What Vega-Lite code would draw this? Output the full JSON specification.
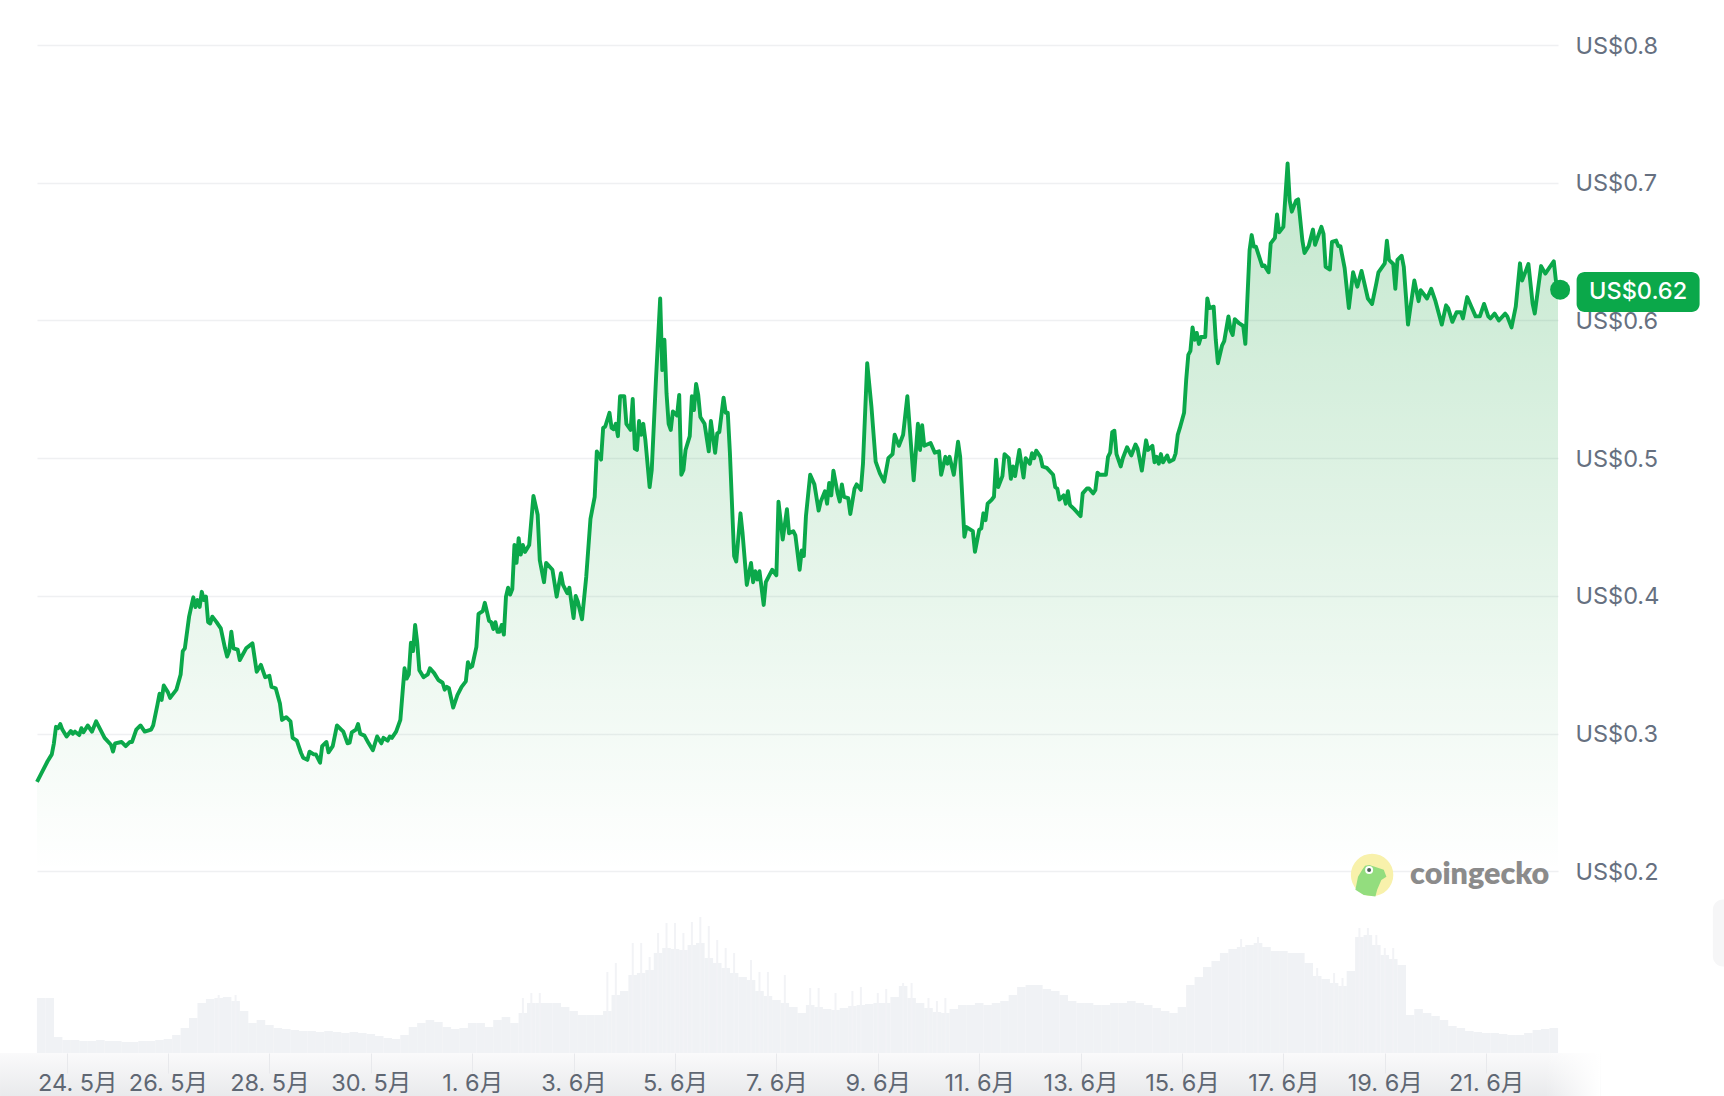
{
"$schema":"https://vega.github.io/schema/vega-lite/v6.json",
"autosize":{"type":"none"},
"background":"#ffffff",
"padding":{"left":37,"top":45,"right":166,"bottom":43},
"width":1521,
"height":1008,
"config":{"view":{"stroke":null},"font":"Inter"},
"datasets":{
"price":[
{"t":"2025-05-23T10:00Z","p":0.265},{"t":"2025-05-23T12:00Z","p":0.271},{"t":"2025-05-23T15:00Z","p":0.28},{"t":"2025-05-23T17:00Z","p":0.285},{"t":"2025-05-23T18:00Z","p":0.293},{"t":"2025-05-23T19:00Z","p":0.305},{"t":"2025-05-23T20:00Z","p":0.304},{"t":"2025-05-23T21:00Z","p":0.307},{"t":"2025-05-23T22:00Z","p":0.303},
{"t":"2025-05-24T00:00Z","p":0.298},{"t":"2025-05-24T02:00Z","p":0.302},{"t":"2025-05-24T03:00Z","p":0.3},{"t":"2025-05-24T04:00Z","p":0.3015},{"t":"2025-05-24T06:00Z","p":0.299},{"t":"2025-05-24T07:00Z","p":0.304},{"t":"2025-05-24T08:00Z","p":0.301},{"t":"2025-05-24T10:00Z","p":0.306},{"t":"2025-05-24T12:00Z","p":0.3015},{"t":"2025-05-24T14:00Z","p":0.309},{"t":"2025-05-24T16:00Z","p":0.303},{"t":"2025-05-24T18:00Z","p":0.297},{"t":"2025-05-24T21:00Z","p":0.292},{"t":"2025-05-24T22:00Z","p":0.287},{"t":"2025-05-24T23:00Z","p":0.293},
{"t":"2025-05-25T02:00Z","p":0.294},{"t":"2025-05-25T04:00Z","p":0.291},{"t":"2025-05-25T06:00Z","p":0.294},{"t":"2025-05-25T07:00Z","p":0.294},{"t":"2025-05-25T09:00Z","p":0.303},{"t":"2025-05-25T11:00Z","p":0.306},{"t":"2025-05-25T13:00Z","p":0.3015},{"t":"2025-05-25T16:00Z","p":0.303},{"t":"2025-05-25T17:00Z","p":0.306},{"t":"2025-05-25T19:00Z","p":0.321},{"t":"2025-05-25T20:00Z","p":0.329},{"t":"2025-05-25T21:00Z","p":0.3245},{"t":"2025-05-25T22:00Z","p":0.335},
{"t":"2025-05-26T00:00Z","p":0.33},{"t":"2025-05-26T01:00Z","p":0.326},{"t":"2025-05-26T04:00Z","p":0.332},{"t":"2025-05-26T06:00Z","p":0.343},{"t":"2025-05-26T07:00Z","p":0.36},{"t":"2025-05-26T08:00Z","p":0.362},{"t":"2025-05-26T10:00Z","p":0.385},{"t":"2025-05-26T12:00Z","p":0.399},{"t":"2025-05-26T13:00Z","p":0.392},{"t":"2025-05-26T14:00Z","p":0.397},{"t":"2025-05-26T15:00Z","p":0.392},{"t":"2025-05-26T16:00Z","p":0.403},{"t":"2025-05-26T17:00Z","p":0.397},{"t":"2025-05-26T18:00Z","p":0.3995},{"t":"2025-05-26T19:00Z","p":0.381},{"t":"2025-05-26T20:00Z","p":0.38},{"t":"2025-05-26T21:00Z","p":0.385},{"t":"2025-05-26T23:00Z","p":0.381},
{"t":"2025-05-27T01:00Z","p":0.3765},{"t":"2025-05-27T03:00Z","p":0.362},{"t":"2025-05-27T04:00Z","p":0.356},{"t":"2025-05-27T05:00Z","p":0.36},{"t":"2025-05-27T06:00Z","p":0.374},{"t":"2025-05-27T07:00Z","p":0.362},{"t":"2025-05-27T09:00Z","p":0.361},{"t":"2025-05-27T10:00Z","p":0.3535},{"t":"2025-05-27T13:00Z","p":0.362},{"t":"2025-05-27T16:00Z","p":0.3656},{"t":"2025-05-27T18:00Z","p":0.345},{"t":"2025-05-27T20:00Z","p":0.35},{"t":"2025-05-27T22:00Z","p":0.341},
{"t":"2025-05-28T00:00Z","p":0.342},{"t":"2025-05-28T01:00Z","p":0.334},{"t":"2025-05-28T03:00Z","p":0.333},{"t":"2025-05-28T05:00Z","p":0.322},{"t":"2025-05-28T06:00Z","p":0.31},{"t":"2025-05-28T08:00Z","p":0.312},{"t":"2025-05-28T10:00Z","p":0.309},{"t":"2025-05-28T11:00Z","p":0.297},{"t":"2025-05-28T13:00Z","p":0.295},{"t":"2025-05-28T15:00Z","p":0.286},{"t":"2025-05-28T16:00Z","p":0.2826},{"t":"2025-05-28T18:00Z","p":0.281},{"t":"2025-05-28T19:00Z","p":0.287},{"t":"2025-05-28T21:00Z","p":0.285},{"t":"2025-05-28T22:00Z","p":0.285},
{"t":"2025-05-29T00:00Z","p":0.279},{"t":"2025-05-29T01:00Z","p":0.291},{"t":"2025-05-29T03:00Z","p":0.294},{"t":"2025-05-29T04:00Z","p":0.2865},{"t":"2025-05-29T06:00Z","p":0.291},{"t":"2025-05-29T08:00Z","p":0.306},{"t":"2025-05-29T10:00Z","p":0.303},{"t":"2025-05-29T11:00Z","p":0.3015},{"t":"2025-05-29T13:00Z","p":0.293},{"t":"2025-05-29T14:00Z","p":0.2935},{"t":"2025-05-29T15:00Z","p":0.301},{"t":"2025-05-29T17:00Z","p":0.303},{"t":"2025-05-29T18:00Z","p":0.307},{"t":"2025-05-29T19:00Z","p":0.3},{"t":"2025-05-29T21:00Z","p":0.2986},{"t":"2025-05-29T23:00Z","p":0.293},
{"t":"2025-05-30T01:00Z","p":0.288},{"t":"2025-05-30T03:00Z","p":0.298},{"t":"2025-05-30T05:00Z","p":0.293},{"t":"2025-05-30T06:00Z","p":0.297},{"t":"2025-05-30T08:00Z","p":0.295},{"t":"2025-05-30T09:00Z","p":0.298},{"t":"2025-05-30T10:00Z","p":0.297},{"t":"2025-05-30T12:00Z","p":0.3015},{"t":"2025-05-30T14:00Z","p":0.31},{"t":"2025-05-30T15:00Z","p":0.329},{"t":"2025-05-30T16:00Z","p":0.3475},{"t":"2025-05-30T17:00Z","p":0.34},{"t":"2025-05-30T18:00Z","p":0.343},{"t":"2025-05-30T19:00Z","p":0.366},{"t":"2025-05-30T20:00Z","p":0.36},{"t":"2025-05-30T21:00Z","p":0.379},{"t":"2025-05-30T22:00Z","p":0.366},{"t":"2025-05-30T23:00Z","p":0.346},
{"t":"2025-05-31T01:00Z","p":0.341},{"t":"2025-05-31T03:00Z","p":0.343},{"t":"2025-05-31T04:00Z","p":0.3475},{"t":"2025-05-31T06:00Z","p":0.344},{"t":"2025-05-31T08:00Z","p":0.339},{"t":"2025-05-31T10:00Z","p":0.337},{"t":"2025-05-31T11:00Z","p":0.332},{"t":"2025-05-31T12:00Z","p":0.334},{"t":"2025-05-31T13:00Z","p":0.333},{"t":"2025-05-31T15:00Z","p":0.319},{"t":"2025-05-31T17:00Z","p":0.328},{"t":"2025-05-31T19:00Z","p":0.334},{"t":"2025-05-31T21:00Z","p":0.338},{"t":"2025-05-31T22:00Z","p":0.352},{"t":"2025-05-31T23:00Z","p":0.348},
{"t":"2025-06-01T00:00Z","p":0.349},{"t":"2025-06-01T02:00Z","p":0.363},{"t":"2025-06-01T03:00Z","p":0.387},{"t":"2025-06-01T05:00Z","p":0.389},{"t":"2025-06-01T06:00Z","p":0.395},{"t":"2025-06-01T08:00Z","p":0.382},{"t":"2025-06-01T09:00Z","p":0.381},{"t":"2025-06-01T10:00Z","p":0.376},{"t":"2025-06-01T11:00Z","p":0.381},{"t":"2025-06-01T12:00Z","p":0.374},{"t":"2025-06-01T13:00Z","p":0.374},{"t":"2025-06-01T14:00Z","p":0.379},{"t":"2025-06-01T15:00Z","p":0.372},{"t":"2025-06-01T16:00Z","p":0.3995},{"t":"2025-06-01T17:00Z","p":0.406},{"t":"2025-06-01T18:00Z","p":0.401},{"t":"2025-06-01T19:00Z","p":0.405},{"t":"2025-06-01T20:00Z","p":0.437},{"t":"2025-06-01T21:00Z","p":0.424},{"t":"2025-06-01T22:00Z","p":0.442},{"t":"2025-06-01T23:00Z","p":0.43},
{"t":"2025-06-02T00:00Z","p":0.437},{"t":"2025-06-02T01:00Z","p":0.432},{"t":"2025-06-02T03:00Z","p":0.437},{"t":"2025-06-02T05:00Z","p":0.4726},{"t":"2025-06-02T07:00Z","p":0.459},{"t":"2025-06-02T08:00Z","p":0.426},{"t":"2025-06-02T10:00Z","p":0.41},{"t":"2025-06-02T11:00Z","p":0.424},{"t":"2025-06-02T14:00Z","p":0.419},{"t":"2025-06-02T16:00Z","p":0.3995},{"t":"2025-06-02T18:00Z","p":0.4165},{"t":"2025-06-02T19:00Z","p":0.408},{"t":"2025-06-02T21:00Z","p":0.402},{"t":"2025-06-02T22:00Z","p":0.406},
{"t":"2025-06-03T00:00Z","p":0.384},{"t":"2025-06-03T01:00Z","p":0.4},{"t":"2025-06-03T02:00Z","p":0.396},{"t":"2025-06-03T04:00Z","p":0.383},{"t":"2025-06-03T06:00Z","p":0.414},{"t":"2025-06-03T08:00Z","p":0.456},{"t":"2025-06-03T10:00Z","p":0.472},{"t":"2025-06-03T11:00Z","p":0.505},{"t":"2025-06-03T13:00Z","p":0.499},{"t":"2025-06-03T14:00Z","p":0.522},{"t":"2025-06-03T15:00Z","p":0.523},{"t":"2025-06-03T17:00Z","p":0.533},{"t":"2025-06-03T18:00Z","p":0.522},{"t":"2025-06-03T19:00Z","p":0.521},{"t":"2025-06-03T20:00Z","p":0.525},{"t":"2025-06-03T21:00Z","p":0.516},{"t":"2025-06-03T22:00Z","p":0.545},
{"t":"2025-06-04T00:00Z","p":0.545},{"t":"2025-06-04T01:00Z","p":0.525},{"t":"2025-06-04T03:00Z","p":0.5205},{"t":"2025-06-04T04:00Z","p":0.543},{"t":"2025-06-04T05:00Z","p":0.507},{"t":"2025-06-04T06:00Z","p":0.506},{"t":"2025-06-04T07:00Z","p":0.527},{"t":"2025-06-04T08:00Z","p":0.517},{"t":"2025-06-04T09:00Z","p":0.525},{"t":"2025-06-04T10:00Z","p":0.513},{"t":"2025-06-04T12:00Z","p":0.479},{"t":"2025-06-04T13:00Z","p":0.4915},{"t":"2025-06-04T15:00Z","p":0.557},{"t":"2025-06-04T17:00Z","p":0.616},{"t":"2025-06-04T18:00Z","p":0.564},{"t":"2025-06-04T19:00Z","p":0.586},{"t":"2025-06-04T20:00Z","p":0.547},{"t":"2025-06-04T21:00Z","p":0.525},{"t":"2025-06-04T22:00Z","p":0.5205},{"t":"2025-06-04T23:00Z","p":0.534},
{"t":"2025-06-05T01:00Z","p":0.531},{"t":"2025-06-05T02:00Z","p":0.546},{"t":"2025-06-05T03:00Z","p":0.488},{"t":"2025-06-05T04:00Z","p":0.4915},{"t":"2025-06-05T05:00Z","p":0.506},{"t":"2025-06-05T07:00Z","p":0.516},{"t":"2025-06-05T08:00Z","p":0.545},{"t":"2025-06-05T09:00Z","p":0.535},{"t":"2025-06-05T10:00Z","p":0.554},{"t":"2025-06-05T11:00Z","p":0.546},{"t":"2025-06-05T12:00Z","p":0.53},{"t":"2025-06-05T14:00Z","p":0.525},{"t":"2025-06-05T16:00Z","p":0.505},{"t":"2025-06-05T17:00Z","p":0.527},{"t":"2025-06-05T19:00Z","p":0.504},{"t":"2025-06-05T20:00Z","p":0.518},{"t":"2025-06-05T21:00Z","p":0.519},{"t":"2025-06-05T23:00Z","p":0.544},
{"t":"2025-06-06T00:00Z","p":0.533},{"t":"2025-06-06T01:00Z","p":0.533},{"t":"2025-06-06T02:00Z","p":0.504},{"t":"2025-06-06T04:00Z","p":0.429},{"t":"2025-06-06T05:00Z","p":0.425},{"t":"2025-06-06T07:00Z","p":0.46},{"t":"2025-06-06T08:00Z","p":0.4455},{"t":"2025-06-06T10:00Z","p":0.408},{"t":"2025-06-06T12:00Z","p":0.424},{"t":"2025-06-06T13:00Z","p":0.41},{"t":"2025-06-06T14:00Z","p":0.418},{"t":"2025-06-06T15:00Z","p":0.412},{"t":"2025-06-06T16:00Z","p":0.418},{"t":"2025-06-06T18:00Z","p":0.3935},{"t":"2025-06-06T19:00Z","p":0.41},{"t":"2025-06-06T22:00Z","p":0.419},
{"t":"2025-06-07T00:00Z","p":0.415},{"t":"2025-06-07T01:00Z","p":0.4685},{"t":"2025-06-07T03:00Z","p":0.441},{"t":"2025-06-07T05:00Z","p":0.463},{"t":"2025-06-07T06:00Z","p":0.4455},{"t":"2025-06-07T08:00Z","p":0.447},{"t":"2025-06-07T09:00Z","p":0.444},{"t":"2025-06-07T11:00Z","p":0.419},{"t":"2025-06-07T12:00Z","p":0.433},{"t":"2025-06-07T13:00Z","p":0.429},{"t":"2025-06-07T14:00Z","p":0.458},{"t":"2025-06-07T16:00Z","p":0.488},{"t":"2025-06-07T18:00Z","p":0.481},{"t":"2025-06-07T20:00Z","p":0.462},{"t":"2025-06-07T21:00Z","p":0.4685},{"t":"2025-06-07T23:00Z","p":0.476},
{"t":"2025-06-08T00:00Z","p":0.467},{"t":"2025-06-08T01:00Z","p":0.482},{"t":"2025-06-08T02:00Z","p":0.473},{"t":"2025-06-08T03:00Z","p":0.491},{"t":"2025-06-08T05:00Z","p":0.4745},{"t":"2025-06-08T06:00Z","p":0.4685},{"t":"2025-06-08T07:00Z","p":0.481},{"t":"2025-06-08T08:00Z","p":0.472},{"t":"2025-06-08T10:00Z","p":0.471},{"t":"2025-06-08T11:00Z","p":0.4595},{"t":"2025-06-08T13:00Z","p":0.478},{"t":"2025-06-08T14:00Z","p":0.481},{"t":"2025-06-08T16:00Z","p":0.477},{"t":"2025-06-08T17:00Z","p":0.496},{"t":"2025-06-08T19:00Z","p":0.569},{"t":"2025-06-08T21:00Z","p":0.5375},{"t":"2025-06-08T23:00Z","p":0.4975},
{"t":"2025-06-09T01:00Z","p":0.489},{"t":"2025-06-09T03:00Z","p":0.483},{"t":"2025-06-09T05:00Z","p":0.5},{"t":"2025-06-09T07:00Z","p":0.503},{"t":"2025-06-09T08:00Z","p":0.517},{"t":"2025-06-09T10:00Z","p":0.509},{"t":"2025-06-09T12:00Z","p":0.517},{"t":"2025-06-09T14:00Z","p":0.545},{"t":"2025-06-09T16:00Z","p":0.504},{"t":"2025-06-09T17:00Z","p":0.484},{"t":"2025-06-09T19:00Z","p":0.525},{"t":"2025-06-09T20:00Z","p":0.506},{"t":"2025-06-09T21:00Z","p":0.524},{"t":"2025-06-09T22:00Z","p":0.509},
{"t":"2025-06-10T01:00Z","p":0.511},{"t":"2025-06-10T03:00Z","p":0.504},{"t":"2025-06-10T05:00Z","p":0.505},{"t":"2025-06-10T06:00Z","p":0.488},{"t":"2025-06-10T08:00Z","p":0.501},{"t":"2025-06-10T09:00Z","p":0.496},{"t":"2025-06-10T10:00Z","p":0.501},{"t":"2025-06-10T12:00Z","p":0.488},{"t":"2025-06-10T14:00Z","p":0.512},{"t":"2025-06-10T15:00Z","p":0.501},{"t":"2025-06-10T17:00Z","p":0.443},{"t":"2025-06-10T18:00Z","p":0.45},{"t":"2025-06-10T21:00Z","p":0.447},{"t":"2025-06-10T22:00Z","p":0.432},
{"t":"2025-06-11T00:00Z","p":0.448},{"t":"2025-06-11T01:00Z","p":0.449},{"t":"2025-06-11T02:00Z","p":0.46},{"t":"2025-06-11T03:00Z","p":0.455},{"t":"2025-06-11T04:00Z","p":0.467},{"t":"2025-06-11T06:00Z","p":0.47},{"t":"2025-06-11T07:00Z","p":0.472},{"t":"2025-06-11T08:00Z","p":0.499},{"t":"2025-06-11T09:00Z","p":0.479},{"t":"2025-06-11T11:00Z","p":0.487},{"t":"2025-06-11T12:00Z","p":0.503},{"t":"2025-06-11T14:00Z","p":0.5},{"t":"2025-06-11T15:00Z","p":0.485},{"t":"2025-06-11T16:00Z","p":0.494},{"t":"2025-06-11T17:00Z","p":0.487},{"t":"2025-06-11T19:00Z","p":0.506},{"t":"2025-06-11T21:00Z","p":0.486},{"t":"2025-06-11T22:00Z","p":0.5},
{"t":"2025-06-12T00:00Z","p":0.496},{"t":"2025-06-12T01:00Z","p":0.5036},{"t":"2025-06-12T02:00Z","p":0.5},{"t":"2025-06-12T03:00Z","p":0.5055},{"t":"2025-06-12T05:00Z","p":0.501},{"t":"2025-06-12T06:00Z","p":0.494},{"t":"2025-06-12T08:00Z","p":0.493},{"t":"2025-06-12T11:00Z","p":0.488},{"t":"2025-06-12T12:00Z","p":0.479},{"t":"2025-06-12T13:00Z","p":0.478},{"t":"2025-06-12T14:00Z","p":0.47},{"t":"2025-06-12T16:00Z","p":0.473},{"t":"2025-06-12T17:00Z","p":0.467},{"t":"2025-06-12T18:00Z","p":0.476},{"t":"2025-06-12T19:00Z","p":0.466},{"t":"2025-06-12T21:00Z","p":0.463},
{"t":"2025-06-13T00:00Z","p":0.458},{"t":"2025-06-13T01:00Z","p":0.4745},{"t":"2025-06-13T03:00Z","p":0.478},{"t":"2025-06-13T04:00Z","p":0.478},{"t":"2025-06-13T06:00Z","p":0.4745},{"t":"2025-06-13T07:00Z","p":0.477},{"t":"2025-06-13T08:00Z","p":0.4895},{"t":"2025-06-13T09:00Z","p":0.488},{"t":"2025-06-13T12:00Z","p":0.488},{"t":"2025-06-13T13:00Z","p":0.501},{"t":"2025-06-13T14:00Z","p":0.504},{"t":"2025-06-13T15:00Z","p":0.519},{"t":"2025-06-13T16:00Z","p":0.52},{"t":"2025-06-13T17:00Z","p":0.503},{"t":"2025-06-13T19:00Z","p":0.494},{"t":"2025-06-13T20:00Z","p":0.5},{"t":"2025-06-13T22:00Z","p":0.508},
{"t":"2025-06-14T00:00Z","p":0.502},{"t":"2025-06-14T02:00Z","p":0.51},{"t":"2025-06-14T03:00Z","p":0.507},{"t":"2025-06-14T05:00Z","p":0.491},{"t":"2025-06-14T07:00Z","p":0.513},{"t":"2025-06-14T08:00Z","p":0.506},{"t":"2025-06-14T10:00Z","p":0.509},{"t":"2025-06-14T11:00Z","p":0.497},{"t":"2025-06-14T12:00Z","p":0.501},{"t":"2025-06-14T13:00Z","p":0.496},{"t":"2025-06-14T14:00Z","p":0.503},{"t":"2025-06-14T15:00Z","p":0.497},{"t":"2025-06-14T17:00Z","p":0.502},{"t":"2025-06-14T18:00Z","p":0.4975},{"t":"2025-06-14T20:00Z","p":0.499},{"t":"2025-06-14T21:00Z","p":0.5036},{"t":"2025-06-14T22:00Z","p":0.517},{"t":"2025-06-14T23:00Z","p":0.522},
{"t":"2025-06-15T01:00Z","p":0.533},{"t":"2025-06-15T02:00Z","p":0.557},{"t":"2025-06-15T03:00Z","p":0.575},{"t":"2025-06-15T04:00Z","p":0.578},{"t":"2025-06-15T05:00Z","p":0.595},{"t":"2025-06-15T06:00Z","p":0.586},{"t":"2025-06-15T07:00Z","p":0.591},{"t":"2025-06-15T08:00Z","p":0.583},{"t":"2025-06-15T09:00Z","p":0.588},{"t":"2025-06-15T11:00Z","p":0.588},{"t":"2025-06-15T12:00Z","p":0.616},{"t":"2025-06-15T13:00Z","p":0.609},{"t":"2025-06-15T15:00Z","p":0.61},{"t":"2025-06-15T16:00Z","p":0.586},{"t":"2025-06-15T17:00Z","p":0.569},{"t":"2025-06-15T19:00Z","p":0.582},{"t":"2025-06-15T20:00Z","p":0.585},{"t":"2025-06-15T22:00Z","p":0.603},{"t":"2025-06-15T23:00Z","p":0.593},
{"t":"2025-06-16T00:00Z","p":0.5895},{"t":"2025-06-16T01:00Z","p":0.601},{"t":"2025-06-16T03:00Z","p":0.598},{"t":"2025-06-16T05:00Z","p":0.596},{"t":"2025-06-16T06:00Z","p":0.583},{"t":"2025-06-16T08:00Z","p":0.651},{"t":"2025-06-16T09:00Z","p":0.662},{"t":"2025-06-16T10:00Z","p":0.6536},{"t":"2025-06-16T11:00Z","p":0.6536},{"t":"2025-06-16T14:00Z","p":0.6395},{"t":"2025-06-16T15:00Z","p":0.64},{"t":"2025-06-16T17:00Z","p":0.635},{"t":"2025-06-16T18:00Z","p":0.656},{"t":"2025-06-16T20:00Z","p":0.66},{"t":"2025-06-16T21:00Z","p":0.677},{"t":"2025-06-16T22:00Z","p":0.664},
{"t":"2025-06-17T00:00Z","p":0.668},{"t":"2025-06-17T02:00Z","p":0.714},{"t":"2025-06-17T03:00Z","p":0.687},{"t":"2025-06-17T04:00Z","p":0.679},{"t":"2025-06-17T06:00Z","p":0.687},{"t":"2025-06-17T07:00Z","p":0.688},{"t":"2025-06-17T09:00Z","p":0.658},{"t":"2025-06-17T10:00Z","p":0.649},{"t":"2025-06-17T12:00Z","p":0.654},{"t":"2025-06-17T14:00Z","p":0.666},{"t":"2025-06-17T15:00Z","p":0.655},{"t":"2025-06-17T18:00Z","p":0.668},{"t":"2025-06-17T19:00Z","p":0.663},{"t":"2025-06-17T20:00Z","p":0.639},{"t":"2025-06-17T22:00Z","p":0.637},{"t":"2025-06-17T23:00Z","p":0.657},
{"t":"2025-06-18T01:00Z","p":0.658},{"t":"2025-06-18T02:00Z","p":0.654},{"t":"2025-06-18T03:00Z","p":0.654},{"t":"2025-06-18T05:00Z","p":0.638},{"t":"2025-06-18T07:00Z","p":0.609},{"t":"2025-06-18T09:00Z","p":0.635},{"t":"2025-06-18T11:00Z","p":0.6245},{"t":"2025-06-18T13:00Z","p":0.636},{"t":"2025-06-18T16:00Z","p":0.616},{"t":"2025-06-18T18:00Z","p":0.612},{"t":"2025-06-18T20:00Z","p":0.627},{"t":"2025-06-18T21:00Z","p":0.635},
{"t":"2025-06-19T00:00Z","p":0.6415},{"t":"2025-06-19T01:00Z","p":0.658},{"t":"2025-06-19T02:00Z","p":0.644},{"t":"2025-06-19T04:00Z","p":0.641},{"t":"2025-06-19T05:00Z","p":0.623},{"t":"2025-06-19T06:00Z","p":0.644},{"t":"2025-06-19T08:00Z","p":0.647},{"t":"2025-06-19T09:00Z","p":0.639},{"t":"2025-06-19T11:00Z","p":0.597},{"t":"2025-06-19T12:00Z","p":0.608},{"t":"2025-06-19T14:00Z","p":0.629},{"t":"2025-06-19T16:00Z","p":0.614},{"t":"2025-06-19T17:00Z","p":0.622},{"t":"2025-06-19T20:00Z","p":0.616},{"t":"2025-06-19T22:00Z","p":0.623},
{"t":"2025-06-20T00:00Z","p":0.614},{"t":"2025-06-20T03:00Z","p":0.597},{"t":"2025-06-20T05:00Z","p":0.611},{"t":"2025-06-20T06:00Z","p":0.609},{"t":"2025-06-20T08:00Z","p":0.599},{"t":"2025-06-20T10:00Z","p":0.606},{"t":"2025-06-20T12:00Z","p":0.606},{"t":"2025-06-20T13:00Z","p":0.6015},{"t":"2025-06-20T15:00Z","p":0.617},{"t":"2025-06-20T17:00Z","p":0.61},{"t":"2025-06-20T19:00Z","p":0.603},{"t":"2025-06-20T21:00Z","p":0.603},{"t":"2025-06-20T23:00Z","p":0.612},
{"t":"2025-06-21T01:00Z","p":0.603},{"t":"2025-06-21T02:00Z","p":0.6015},{"t":"2025-06-21T04:00Z","p":0.605},{"t":"2025-06-21T06:00Z","p":0.6},{"t":"2025-06-21T09:00Z","p":0.605},{"t":"2025-06-21T10:00Z","p":0.603},{"t":"2025-06-21T12:00Z","p":0.595},{"t":"2025-06-21T14:00Z","p":0.61},{"t":"2025-06-21T16:00Z","p":0.6415},{"t":"2025-06-21T17:00Z","p":0.629},{"t":"2025-06-21T20:00Z","p":0.641},{"t":"2025-06-21T22:00Z","p":0.612},{"t":"2025-06-21T23:00Z","p":0.605},
{"t":"2025-06-22T02:00Z","p":0.6395},{"t":"2025-06-22T04:00Z","p":0.634},{"t":"2025-06-22T08:00Z","p":0.643},{"t":"2025-06-22T09:00Z","p":0.629},{"t":"2025-06-22T10:00Z","p":0.6224}
],
"volume":[
{"t":"2025-05-23T12:00Z","v":55},{"t":"2025-05-23T16:00Z","v":55},{"t":"2025-05-23T20:00Z","v":16},
{"t":"2025-05-24T00:00Z","v":13},{"t":"2025-05-24T04:00Z","v":13},{"t":"2025-05-24T08:00Z","v":12},{"t":"2025-05-24T12:00Z","v":12},{"t":"2025-05-24T16:00Z","v":13},{"t":"2025-05-24T20:00Z","v":12},
{"t":"2025-05-25T00:00Z","v":12},{"t":"2025-05-25T04:00Z","v":11},{"t":"2025-05-25T08:00Z","v":11},{"t":"2025-05-25T12:00Z","v":12},{"t":"2025-05-25T16:00Z","v":12},{"t":"2025-05-25T20:00Z","v":13},
{"t":"2025-05-26T00:00Z","v":14},{"t":"2025-05-26T04:00Z","v":18},{"t":"2025-05-26T08:00Z","v":25},{"t":"2025-05-26T12:00Z","v":35},{"t":"2025-05-26T16:00Z","v":50},{"t":"2025-05-26T20:00Z","v":54},
{"t":"2025-05-27T00:00Z","v":55,"s":58},{"t":"2025-05-27T04:00Z","v":56},{"t":"2025-05-27T08:00Z","v":52,"s":58},{"t":"2025-05-27T12:00Z","v":42},{"t":"2025-05-27T16:00Z","v":30},{"t":"2025-05-27T20:00Z","v":33},
{"t":"2025-05-28T00:00Z","v":28},{"t":"2025-05-28T04:00Z","v":25},{"t":"2025-05-28T08:00Z","v":24},{"t":"2025-05-28T12:00Z","v":23},{"t":"2025-05-28T16:00Z","v":22},{"t":"2025-05-28T20:00Z","v":22},
{"t":"2025-05-29T00:00Z","v":21},{"t":"2025-05-29T04:00Z","v":22},{"t":"2025-05-29T08:00Z","v":21},{"t":"2025-05-29T12:00Z","v":20},{"t":"2025-05-29T16:00Z","v":21},{"t":"2025-05-29T20:00Z","v":20},
{"t":"2025-05-30T00:00Z","v":19},{"t":"2025-05-30T04:00Z","v":17},{"t":"2025-05-30T08:00Z","v":15},{"t":"2025-05-30T12:00Z","v":14},{"t":"2025-05-30T16:00Z","v":18},{"t":"2025-05-30T20:00Z","v":26},
{"t":"2025-05-31T00:00Z","v":30},{"t":"2025-05-31T04:00Z","v":33},{"t":"2025-05-31T08:00Z","v":31},{"t":"2025-05-31T12:00Z","v":26},{"t":"2025-05-31T16:00Z","v":24},{"t":"2025-05-31T20:00Z","v":25},
{"t":"2025-06-01T00:00Z","v":30},{"t":"2025-06-01T04:00Z","v":30},{"t":"2025-06-01T08:00Z","v":26},{"t":"2025-06-01T12:00Z","v":33},{"t":"2025-06-01T16:00Z","v":36},{"t":"2025-06-01T20:00Z","v":30},
{"t":"2025-06-02T00:00Z","v":40,"s":55},{"t":"2025-06-02T04:00Z","v":50,"s":60},{"t":"2025-06-02T08:00Z","v":50,"s":60},{"t":"2025-06-02T12:00Z","v":50},{"t":"2025-06-02T16:00Z","v":50},{"t":"2025-06-02T20:00Z","v":46},
{"t":"2025-06-03T00:00Z","v":42},{"t":"2025-06-03T04:00Z","v":38},{"t":"2025-06-03T08:00Z","v":38},{"t":"2025-06-03T12:00Z","v":38},{"t":"2025-06-03T16:00Z","v":42,"s":81},{"t":"2025-06-03T20:00Z","v":58,"s":90},
{"t":"2025-06-04T00:00Z","v":62},{"t":"2025-06-04T04:00Z","v":78,"s":110},{"t":"2025-06-04T08:00Z","v":80,"s":110},{"t":"2025-06-04T12:00Z","v":83,"s":96},{"t":"2025-06-04T16:00Z","v":100,"s":120},{"t":"2025-06-04T20:00Z","v":105,"s":130},
{"t":"2025-06-05T00:00Z","v":104,"s":130},{"t":"2025-06-05T04:00Z","v":103,"s":120},{"t":"2025-06-05T08:00Z","v":108,"s":131},{"t":"2025-06-05T12:00Z","v":110,"s":136},{"t":"2025-06-05T16:00Z","v":95,"s":127},{"t":"2025-06-05T20:00Z","v":90,"s":113},
{"t":"2025-06-06T00:00Z","v":85,"s":105},{"t":"2025-06-06T04:00Z","v":80,"s":100},{"t":"2025-06-06T08:00Z","v":76},{"t":"2025-06-06T12:00Z","v":73,"s":93},{"t":"2025-06-06T16:00Z","v":62,"s":81},{"t":"2025-06-06T20:00Z","v":57,"s":81},
{"t":"2025-06-07T00:00Z","v":53},{"t":"2025-06-07T04:00Z","v":50,"s":78},{"t":"2025-06-07T08:00Z","v":46},{"t":"2025-06-07T12:00Z","v":40},{"t":"2025-06-07T16:00Z","v":48,"s":65},{"t":"2025-06-07T20:00Z","v":46,"s":65},
{"t":"2025-06-08T00:00Z","v":44},{"t":"2025-06-08T04:00Z","v":43,"s":60},{"t":"2025-06-08T08:00Z","v":45},{"t":"2025-06-08T12:00Z","v":47,"s":62},{"t":"2025-06-08T16:00Z","v":48,"s":66},{"t":"2025-06-08T20:00Z","v":49},
{"t":"2025-06-09T00:00Z","v":50,"s":60},{"t":"2025-06-09T04:00Z","v":50,"s":64},{"t":"2025-06-09T08:00Z","v":56},{"t":"2025-06-09T12:00Z","v":67,"s":70},{"t":"2025-06-09T16:00Z","v":55,"s":70},{"t":"2025-06-09T20:00Z","v":50},
{"t":"2025-06-10T00:00Z","v":45,"s":55},{"t":"2025-06-10T04:00Z","v":41,"s":52},{"t":"2025-06-10T08:00Z","v":40,"s":55},{"t":"2025-06-10T12:00Z","v":44},{"t":"2025-06-10T16:00Z","v":48},{"t":"2025-06-10T20:00Z","v":48},
{"t":"2025-06-11T00:00Z","v":50},{"t":"2025-06-11T04:00Z","v":48},{"t":"2025-06-11T08:00Z","v":50},{"t":"2025-06-11T12:00Z","v":52},{"t":"2025-06-11T16:00Z","v":58},{"t":"2025-06-11T20:00Z","v":66},
{"t":"2025-06-12T00:00Z","v":68},{"t":"2025-06-12T04:00Z","v":68},{"t":"2025-06-12T08:00Z","v":64},{"t":"2025-06-12T12:00Z","v":62},{"t":"2025-06-12T16:00Z","v":58},{"t":"2025-06-12T20:00Z","v":52},
{"t":"2025-06-13T00:00Z","v":50},{"t":"2025-06-13T04:00Z","v":50},{"t":"2025-06-13T08:00Z","v":48},{"t":"2025-06-13T12:00Z","v":48},{"t":"2025-06-13T16:00Z","v":50},{"t":"2025-06-13T20:00Z","v":50},
{"t":"2025-06-14T00:00Z","v":52},{"t":"2025-06-14T04:00Z","v":50},{"t":"2025-06-14T08:00Z","v":48},{"t":"2025-06-14T12:00Z","v":45},{"t":"2025-06-14T16:00Z","v":42},{"t":"2025-06-14T20:00Z","v":40},
{"t":"2025-06-15T00:00Z","v":46},{"t":"2025-06-15T04:00Z","v":68},{"t":"2025-06-15T08:00Z","v":76},{"t":"2025-06-15T12:00Z","v":86},{"t":"2025-06-15T16:00Z","v":92},{"t":"2025-06-15T20:00Z","v":100},
{"t":"2025-06-16T00:00Z","v":104},{"t":"2025-06-16T04:00Z","v":106,"s":114},{"t":"2025-06-16T08:00Z","v":108},{"t":"2025-06-16T12:00Z","v":110,"s":116},{"t":"2025-06-16T16:00Z","v":106},{"t":"2025-06-16T20:00Z","v":102},
{"t":"2025-06-17T00:00Z","v":102},{"t":"2025-06-17T04:00Z","v":100},{"t":"2025-06-17T08:00Z","v":100},{"t":"2025-06-17T12:00Z","v":90},{"t":"2025-06-17T16:00Z","v":77,"s":85},{"t":"2025-06-17T20:00Z","v":74},
{"t":"2025-06-18T00:00Z","v":70,"s":80},{"t":"2025-06-18T04:00Z","v":67,"s":75},{"t":"2025-06-18T08:00Z","v":82},{"t":"2025-06-18T12:00Z","v":116,"s":125},{"t":"2025-06-18T16:00Z","v":118,"s":125},{"t":"2025-06-18T20:00Z","v":108,"s":118},
{"t":"2025-06-19T00:00Z","v":98,"s":105},{"t":"2025-06-19T04:00Z","v":94,"s":105},{"t":"2025-06-19T08:00Z","v":88},{"t":"2025-06-19T12:00Z","v":38},{"t":"2025-06-19T16:00Z","v":44},{"t":"2025-06-19T20:00Z","v":40},
{"t":"2025-06-20T00:00Z","v":37},{"t":"2025-06-20T04:00Z","v":33},{"t":"2025-06-20T08:00Z","v":27},{"t":"2025-06-20T12:00Z","v":25},{"t":"2025-06-20T16:00Z","v":22},{"t":"2025-06-20T20:00Z","v":21},
{"t":"2025-06-21T00:00Z","v":20},{"t":"2025-06-21T04:00Z","v":20},{"t":"2025-06-21T08:00Z","v":19},{"t":"2025-06-21T12:00Z","v":18},{"t":"2025-06-21T16:00Z","v":18},{"t":"2025-06-21T20:00Z","v":20},
{"t":"2025-06-22T00:00Z","v":23},{"t":"2025-06-22T04:00Z","v":24},{"t":"2025-06-22T08:00Z","v":25}
],
"gaps":[
{"t":"2025-05-23T16:00Z"},{"t":"2025-05-24T10:00Z"},{"t":"2025-05-25T04:00Z"},{"t":"2025-05-25T22:00Z"},{"t":"2025-05-26T16:00Z"},{"t":"2025-05-27T10:00Z"},{"t":"2025-05-28T04:00Z"},{"t":"2025-05-28T22:00Z"},{"t":"2025-05-29T16:00Z"},{"t":"2025-05-30T10:00Z"},{"t":"2025-05-31T04:00Z"},{"t":"2025-05-31T22:00Z"},{"t":"2025-06-01T16:00Z"},{"t":"2025-06-02T10:00Z"},{"t":"2025-06-03T04:00Z"},{"t":"2025-06-03T22:00Z"},{"t":"2025-06-04T16:00Z"},{"t":"2025-06-05T10:00Z"},{"t":"2025-06-06T04:00Z"},{"t":"2025-06-06T22:00Z"},{"t":"2025-06-07T16:00Z"},{"t":"2025-06-08T10:00Z"},{"t":"2025-06-09T04:00Z"},{"t":"2025-06-09T22:00Z"},{"t":"2025-06-10T16:00Z"},{"t":"2025-06-11T10:00Z"},{"t":"2025-06-12T04:00Z"},{"t":"2025-06-12T22:00Z"},{"t":"2025-06-13T16:00Z"},{"t":"2025-06-14T10:00Z"},{"t":"2025-06-15T04:00Z"},{"t":"2025-06-15T22:00Z"},{"t":"2025-06-16T16:00Z"},{"t":"2025-06-17T10:00Z"},{"t":"2025-06-18T04:00Z"},{"t":"2025-06-18T22:00Z"},{"t":"2025-06-19T16:00Z"},{"t":"2025-06-20T10:00Z"},{"t":"2025-06-21T04:00Z"},{"t":"2025-06-21T22:00Z"}
],
"strip":[{"t":"2025-05-22T16:30Z","t2":"2025-06-23T06:00Z","v":0,"v2":-43}],
"stripFade":[{"t":"2025-06-22T04:00Z","t2":"2025-06-23T06:00Z","v":0,"v2":-43}],
"latest":[{"t":"2025-06-22T11:00Z","p":0.6224}],
"tag":[{"t":"2025-06-22T11:00Z","p":0.6207,"label":"US$0.62"}],
"logo":[{"t":"2025-06-18T18:00Z","p":0.1975,"label":"coingecko"}],
"handle":[{"t":"2025-06-25T17:00Z","p":0.1554}]
},
"encoding":{
"x":{"field":"t","type":"temporal","title":null,
"scale":{"type":"utc","padding":0,"domain":[{"year":2025,"month":5,"date":23,"hours":10,"utc":true},{"year":2025,"month":6,"date":22,"hours":10,"utc":true}]},
"axis":{"zindex":1,"grid":false,"domain":false,"tickColor":"#e8e9ec","tickSize":20,"tickWidth":1,"labelColor":"#5f6773","labelFont":"Inter, Noto Sans CJK SC","labelFontSize":23.5,"labelPadding":-2,"labelOverlap":false,"labelBound":false,"labelFlush":31,"labelFlushOffset":29,
"labelExpr":"utcFormat(datum.value,'%-d. %-m') + '月'",
"values":[{"year":2025,"month":5,"date":24,"utc":true},{"year":2025,"month":5,"date":26,"utc":true},{"year":2025,"month":5,"date":28,"utc":true},{"year":2025,"month":5,"date":30,"utc":true},{"year":2025,"month":6,"date":1,"utc":true},{"year":2025,"month":6,"date":3,"utc":true},{"year":2025,"month":6,"date":5,"utc":true},{"year":2025,"month":6,"date":7,"utc":true},{"year":2025,"month":6,"date":9,"utc":true},{"year":2025,"month":6,"date":11,"utc":true},{"year":2025,"month":6,"date":13,"utc":true},{"year":2025,"month":6,"date":15,"utc":true},{"year":2025,"month":6,"date":17,"utc":true},{"year":2025,"month":6,"date":19,"utc":true},{"year":2025,"month":6,"date":21,"utc":true}]}}
},
"layer":[
{
"encoding":{"y":{"field":"v","type":"quantitative","scale":{"domain":[0,1008],"nice":false},"axis":null}},
"layer":[
{"data":{"name":"strip"},"mark":{"type":"rect","fill":{"gradient":"linear","x1":0,"y1":0,"x2":0,"y2":1,"stops":[{"offset":0,"color":"#fafafb"},{"offset":1,"color":"#e9eaec"}]}},"encoding":{"x2":{"field":"t2"},"y2":{"field":"v2"}}},
{"data":{"name":"stripFade"},"mark":{"type":"rect","fill":{"gradient":"linear","x1":0,"y1":0,"x2":1,"y2":0,"stops":[{"offset":0,"color":"rgba(255,255,255,0)"},{"offset":1,"color":"rgba(255,255,255,1)"}]}},"encoding":{"x2":{"field":"t2"},"y2":{"field":"v2"}}},
{"data":{"name":"volume"},"mark":{"type":"bar","width":8.6,"color":"#f0f2f5"}},
{"data":{"name":"volume"},"transform":[{"filter":"datum.s"}],"mark":{"type":"rule","color":"#f2f3f6","strokeWidth":2},"encoding":{"y":{"field":"s","type":"quantitative"},"y2":{"datum":0}}},
{"data":{"name":"gaps"},"mark":{"type":"rule","color":"#ffffff","strokeWidth":2.2},"encoding":{"y":{"datum":140},"y2":{"datum":0}}}
]
},
{
"encoding":{"y":{"field":"p","type":"quantitative","title":null,"scale":{"domain":[0.0682,0.8],"nice":false,"zero":false},
"axis":{"orient":"right","values":[0.2,0.3,0.4,0.5,0.6,0.7,0.8],"grid":true,"gridColor":"#eff0f2","gridWidth":1.5,"domain":false,"ticks":false,"labelPadding":17,"labelOffset":1,"labelColor":"#667080","labelFont":"Inter","labelFontSize":23.5,"labelExpr":"'US$' + format(datum.value,'.1f')"}}},
"layer":[
{"data":{"name":"price"},"mark":{"type":"area","color":{"gradient":"linear","x1":0,"y1":0,"x2":0,"y2":1,"stops":[{"offset":0,"color":"rgba(0,155,45,0.235)"},{"offset":1,"color":"rgba(0,155,45,0)"}]}},"encoding":{"y2":{"datum":0.2}}},
{"data":{"name":"price"},"mark":{"type":"line","color":"#0ba84a","strokeWidth":3.9,"strokeJoin":"round"}},
{"data":{"name":"latest"},"mark":{"type":"point","shape":"circle","filled":true,"opacity":1,"size":400,"color":"#0ba84a"}},
{"data":{"name":"tag"},"mark":{"type":"rect","width":123,"height":40,"cornerRadius":8,"xOffset":78,"color":"#0ba84a"}},
{"data":{"name":"tag"},"mark":{"type":"text","dx":78,"align":"center","baseline":"middle","color":"#ffffff","font":"Inter","fontSize":23.5,"fontWeight":500},"encoding":{"text":{"field":"label"}}},
{"data":{"name":"logo"},"mark":{"type":"point","shape":"circle","filled":true,"opacity":1,"size":1800,"color":"#f8f1ab"}},
{"data":{"name":"logo"},"mark":{"type":"point","shape":"M -0.32 -0.42 L -0.12 -0.45 L 0.53 -0.23 L 0.65 0.08 L 0.42 0.23 L 0.23 0.68 L 0.15 0.98 L -0.38 0.91 L -0.76 0.68 L -0.64 0.08 L -0.45 -0.23 Z","filled":true,"opacity":1,"size":1936,"color":"#93dd7e"}},
{"data":{"name":"logo"},"mark":{"type":"point","shape":"circle","filled":true,"opacity":1,"size":64,"color":"#ffffff","xOffset":-3,"yOffset":-5}},
{"data":{"name":"logo"},"mark":{"type":"point","shape":"circle","filled":true,"opacity":1,"size":16,"color":"#4b5f55","xOffset":-3,"yOffset":-5}},
{"data":{"name":"logo"},"mark":{"type":"text","dx":38,"align":"left","baseline":"middle","color":"#8b8b8b","font":"Lato","fontSize":30.5,"fontWeight":800},"encoding":{"text":{"field":"label"}}},
{"data":{"name":"handle"},"mark":{"type":"rect","width":24,"height":67,"cornerRadius":10,"color":"#f6f6f7"}}
]
}
],
"resolve":{"scale":{"y":"independent"}}
}
